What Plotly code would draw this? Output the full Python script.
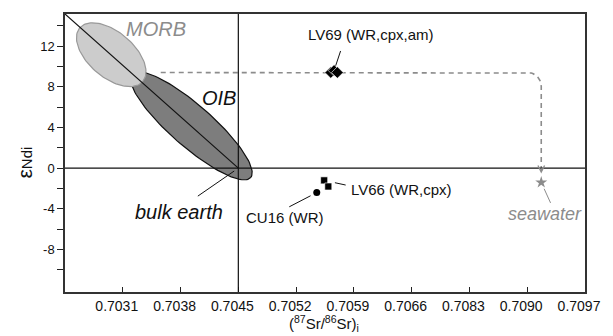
import numpy as np
import plotly.graph_objects as go

# ---------------- data ----------------
TICK_SR = [0.7031, 0.7038, 0.7045, 0.7052, 0.7059, 0.7066, 0.7083, 0.7090, 0.7097]
TICK_LABELS = ["0.7031", "0.7038", "0.7045", "0.7052", "0.7059", "0.7066", "0.7083", "0.7090", "0.7097"]
LEFT_EDGE_SR = 0.7024
END_TICKS = [-10, -8, -6, -4, -2, 0, 2, 4, 6, 8, 10, 12, 14]
END_LABELED = [-8, -4, 0, 4, 8, 12]

LV69_SR = [0.70562, 0.70566, 0.70570]
LV69_END = [9.4, 9.6, 9.4]
LV66_SR = [0.70554, 0.70559]
LV66_END = [-1.2, -1.8]
CU16_SR = [0.70545]
CU16_END = [-2.4]
SEAWATER_SR = [0.70917]
SEAWATER_END = [-1.4]
BULK_SR = 0.7045
BULK_END = 0.0
MORB_CENTER = (0.70296, 11.15)
OIB_CENTER = (0.70393, 4.17)
MIX_START = (0.70356, 9.4)

# ---------------- layout constants ----------------
W, H = 613, 336
ML, MR, MT, MB = 65, 17, 12, 44
X_RANGE = [-1, 8]
Y_RANGE = [-12.17, 15.15]
PXX = (W - ML - MR) / (X_RANGE[1] - X_RANGE[0])
PXY = (H - MT - MB) / (Y_RANGE[1] - Y_RANGE[0])

SR_KNOTS = [LEFT_EDGE_SR] + TICK_SR
POS_KNOTS = list(range(-1, len(TICK_SR)))


def pos(sr):
    return np.interp(sr, SR_KNOTS, POS_KNOTS)


def ellipse(center, a_px, b_px, ang_deg, n=120):
    cx, cy = pos(center[0]), center[1]
    t = np.linspace(0, 2 * np.pi, n)
    th = np.radians(ang_deg)
    dx = a_px * np.cos(t) * np.cos(th) - b_px * np.sin(t) * np.sin(th)
    dy = a_px * np.cos(t) * np.sin(th) + b_px * np.sin(t) * np.cos(th)
    return cx + dx / PXX, cy - dy / PXY


FONT = "Liberation Sans, Arial, sans-serif"
GRAY = "#8c8c8c"

fig = go.Figure()

# OIB ellipse
ox, oy = ellipse(OIB_CENTER, 80, 21, 40.7)
fig.add_trace(go.Scatter(x=ox, y=oy, mode="lines", fill="toself",
                         fillcolor="#7d7d7d", line=dict(color="#111", width=1.2),
                         hoverinfo="skip"))
# MORB ellipse
mx, my = ellipse(MORB_CENTER, 42, 23, 39.7)
fig.add_trace(go.Scatter(x=mx, y=my, mode="lines", fill="toself",
                         fillcolor="#cccccc", line=dict(color="#999999", width=1.2),
                         hoverinfo="skip"))

# mantle array diagonal
fig.add_trace(go.Scatter(x=[X_RANGE[0], pos(BULK_SR)], y=[Y_RANGE[1], BULK_END],
                         mode="lines", line=dict(color="#111", width=1.2),
                         hoverinfo="skip"))

# mixing (dashed) path toward seawater with rounded corner
R = 14
xv = pos(SEAWATER_SR[0])
yh = MIX_START[1]
ccx, ccy = xv - R / PXX, yh - R / PXY
phi = np.linspace(np.pi / 2, 0, 12)
path_x = [pos(MIX_START[0])] + list(ccx + R * np.cos(phi) / PXX) + [xv]
tip_y = SEAWATER_END[0] + 9 / PXY
path_y = [yh] + list(ccy + R * np.sin(phi) / PXY) + [tip_y]
fig.add_trace(go.Scatter(x=path_x, y=path_y, mode="lines",
                         line=dict(color=GRAY, width=1.6, dash="5px,4px"),
                         hoverinfo="skip"))

# samples
fig.add_trace(go.Scatter(x=pos(LV69_SR), y=LV69_END, mode="markers",
                         marker=dict(symbol="diamond", size=9, color="black",
                                     line=dict(color="white", width=0.6))))
fig.add_trace(go.Scatter(x=pos(LV66_SR), y=LV66_END, mode="markers",
                         marker=dict(symbol="square", size=7, color="black",
                                     line=dict(color="white", width=0.6))))
fig.add_trace(go.Scatter(x=pos(CU16_SR), y=CU16_END, mode="markers",
                         marker=dict(symbol="circle", size=7, color="black")))
fig.add_trace(go.Scatter(x=pos(SEAWATER_SR), y=SEAWATER_END, mode="markers",
                         marker=dict(symbol="star", size=9, color=GRAY)))

# reference lines
fig.add_hline(y=0, line=dict(color="#111", width=1.2))
fig.add_vline(x=pos(BULK_SR), line=dict(color="#111", width=1.2))

ann = []
# arrowhead of mixing path
ann.append(dict(x=xv, y=tip_y, ax=0, ay=-7, text="", showarrow=True,
                arrowhead=5, arrowsize=1.3, arrowwidth=1, arrowcolor=GRAY))


def leader(x, y, ax, ay, standoff, color="#111"):
    ann.append(dict(x=x, y=y, ax=ax, ay=ay, text="", showarrow=True, arrowhead=0,
                    arrowwidth=1, arrowcolor=color, standoff=standoff))


def label(x, y, text, xs, ys, xanchor, size, color="#111"):
    ann.append(dict(x=x, y=y, text=text, showarrow=False, xanchor=xanchor,
                    yanchor="middle", xshift=xs, yshift=ys,
                    font=dict(family=FONT, size=size, color=color)))


lv69x, lv69y = pos(LV69_SR[1]), LV69_END[1]
leader(lv69x, lv69y, 7, -21, 5)
label(lv69x, lv69y, "LV69 (WR,cpx,am)", -28, 36, "left", 15)

lv66x, lv66y = pos(LV66_SR[0]), LV66_END[0]
leader(lv66x, lv66y, 23, 5, 11)
label(lv66x, lv66y, "LV66 (WR,cpx)", 25, -9, "left", 15)

cux, cuy = pos(CU16_SR[0]), CU16_END[0]
leader(cux, cuy, -29, 15, 7)
label(cux, cuy, "CU16 (WR)", -73, -25, "left", 15)

swx, swy = pos(SEAWATER_SR[0]), SEAWATER_END[0]
leader(swx, swy, 10, 22, 7, GRAY)
label(swx, swy, "<i>seawater</i>", 43, -32, "right", 18, GRAY)

bx = pos(BULK_SR)
leader(bx, BULK_END, -42, 29, 5)
label(bx, BULK_END, "<i>bulk earth</i>", -59, -44, "center", 20)

label(pos(MORB_CENTER[0]), MORB_CENTER[1], "<i>MORB</i>", 45, 26, "center", 20, GRAY)
label(pos(OIB_CENTER[0]), OIB_CENTER[1], "<i>OIB</i>", 28, 28, "center", 20)

# axis titles
ann.append(dict(x=0.499, y=0, xref="paper", yref="paper", xanchor="center",
                yanchor="bottom", yshift=-44, showarrow=False,
                text="(<sup>87</sup>Sr/<sup>86</sup>Sr)<sub>i</sub>",
                font=dict(family=FONT, size=15, color="#111")))
ann.append(dict(x=(24 - ML) / (W - ML - MR), y=0.465, xref="paper", yref="paper",
                xanchor="center", yanchor="middle", textangle=-90, showarrow=False,
                text='<span style="font-size:21px">ε</span>Ndi',
                font=dict(family=FONT, size=15, color="#111")))

fig.update_layout(
    width=W, height=H,
    margin=dict(l=ML, r=MR, t=MT, b=MB),
    plot_bgcolor="white", paper_bgcolor="white",
    showlegend=False,
    annotations=ann,
    font=dict(family=FONT, color="#111"),
)
fig.update_xaxes(range=X_RANGE, tickvals=list(range(len(TICK_SR))), ticktext=TICK_LABELS,
                 ticks="inside", ticklen=5, tickwidth=1.2, tickcolor="#222",
                 ticklabelshift=-6, ticklabelstandoff=0, ticklabeloverflow="allow",
                 showline=True, linecolor="#333", linewidth=1.5, mirror=True,
                 showgrid=False, zeroline=False, tickfont=dict(size=14, color="#111"))
fig.update_yaxes(range=Y_RANGE, tickvals=END_TICKS,
                 ticktext=[str(v) if v in END_LABELED else "" for v in END_TICKS],
                 ticks="outside", ticklen=6, tickwidth=1.2, tickcolor="#222",
                 showline=True, linecolor="#333", linewidth=1.5, mirror=True,
                 showgrid=False, zeroline=False, tickfont=dict(size=13, color="#111"))

fig.write_html("out.html", config={"displayModeBar": False},
               post_script="document.body.style.margin='0';")
